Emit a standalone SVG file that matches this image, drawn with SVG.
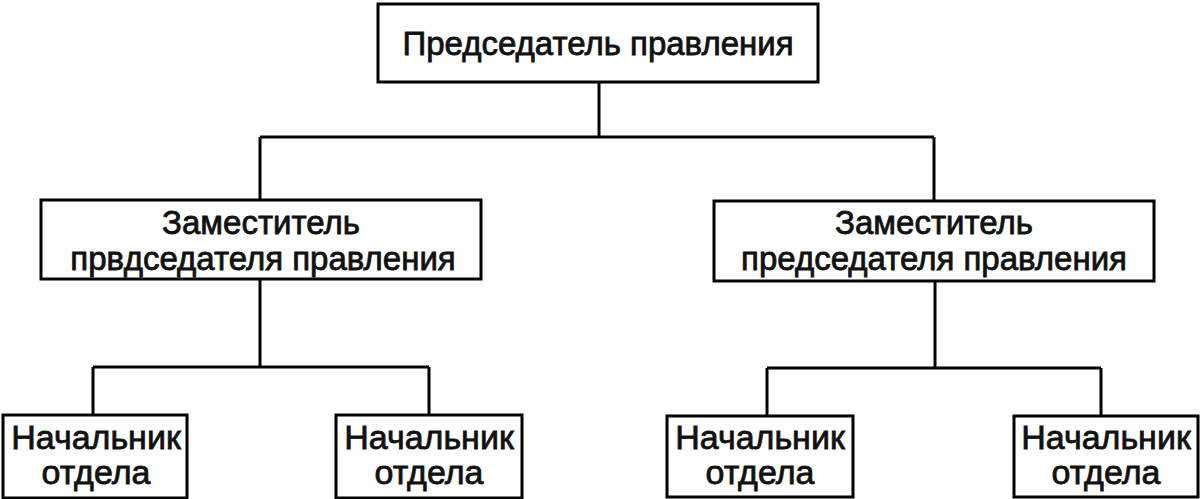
<svg xmlns="http://www.w3.org/2000/svg" width="1200" height="499" viewBox="0 0 1200 499">
<style>
rect{fill:#fff;stroke:#000;stroke-width:3}
.c line{stroke:#000;stroke-width:3}
text{font-family:"Liberation Sans",Arial,sans-serif;font-size:33px;fill:#111;text-anchor:middle;stroke:#111;stroke-width:0.8}
.s{font-size:34px}
</style>
<rect width="1200" height="499" style="stroke:none"/>
<g class="c">
<line x1="599" y1="82" x2="599" y2="137"/>
<line x1="260" y1="137" x2="934" y2="137"/>
<line x1="260" y1="137" x2="260" y2="200"/>
<line x1="934" y1="137" x2="934" y2="201"/>
<line x1="260" y1="279" x2="260" y2="367"/>
<line x1="93" y1="367" x2="429" y2="367"/>
<line x1="93" y1="367" x2="93" y2="415"/>
<line x1="429" y1="367" x2="429" y2="415"/>
<line x1="935" y1="281" x2="935" y2="368"/>
<line x1="767" y1="368" x2="1101" y2="368"/>
<line x1="767" y1="368" x2="767" y2="416"/>
<line x1="1101" y1="368" x2="1101" y2="416"/>
</g>
<g id="n0"><rect x="378" y="4" width="440" height="78"/><text x="598" y="55">Председатель правления</text></g>
<g id="n1"><rect x="41" y="200" width="440" height="79"/><text x="261" y="234">Заместитель</text><text x="263" y="270">првдседателя правления</text></g>
<g id="n2"><rect x="714" y="201" width="440" height="80"/><text x="934" y="234">Заместитель</text><text x="934" y="270">председателя правления</text></g>
<g id="n3"><rect x="3" y="415" width="184" height="83"/><text class="s" x="96" y="449">Начальник</text><text class="s" x="96" y="484">отдела</text></g>
<g id="n4"><rect x="336" y="415" width="186" height="83"/><text class="s" x="429" y="449">Начальник</text><text class="s" x="429" y="484">отдела</text></g>
<g id="n5"><rect x="667" y="416" width="186" height="81"/><text class="s" x="760" y="449">Начальник</text><text class="s" x="760" y="484">отдела</text></g>
<g id="n6"><rect x="1014" y="416" width="184" height="81"/><text class="s" x="1106" y="449">Начальник</text><text class="s" x="1106" y="484">отдела</text></g>
</svg>
